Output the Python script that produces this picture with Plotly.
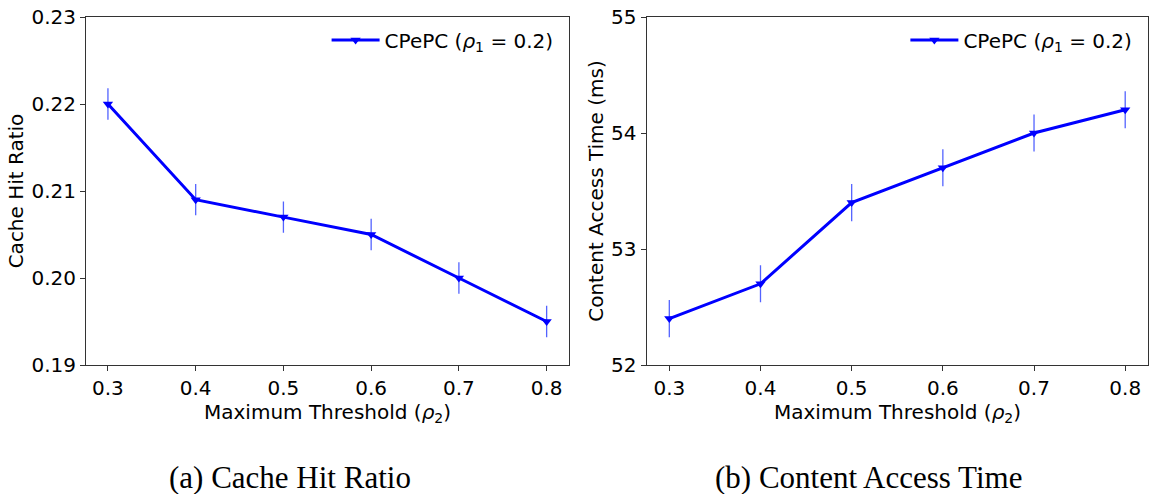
import plotly.graph_objects as go

# Maximum threshold values (rho_2)
thresholds = [0.3, 0.4, 0.5, 0.6, 0.7, 0.8]

# Cache hit ratio and its error half-widths
hit_ratio = [0.220, 0.209, 0.207, 0.205, 0.200, 0.195]
hit_ratio_err = [0.0018, 0.0018, 0.0018, 0.0018, 0.0018, 0.0018]

# Content access time (ms) and its error half-widths
access_time = [52.4, 52.7, 53.4, 53.7, 54.0, 54.2]
access_time_err = [0.16, 0.16, 0.16, 0.16, 0.16, 0.16]

x_ticks = [0.3, 0.4, 0.5, 0.6, 0.7, 0.8]
left_y_ticks = [0.19, 0.20, 0.21, 0.22, 0.23]
right_y_ticks = [52, 53, 54, 55]

series_name = "CPePC (<i>ρ</i><sub>1</sub> = 0.2)"
x_title = "Maximum Threshold (<i>ρ</i><sub>2</sub>)"
captions = ["(a) Cache Hit Ratio", "(b) Content Access Time"]

LINE_BLUE = "#0000ff"
ERR_BLUE = "rgba(40,60,255,0.8)"
FONT = "DejaVu Sans"

LEFT_DOMAIN = [0, 0.4544]
RIGHT_DOMAIN = [0.5278, 1]

fig = go.Figure()


def add_series(y, err, xaxis, yaxis, legend):
    fig.add_trace(go.Scatter(
        x=thresholds, y=y,
        mode="lines+markers",
        name=series_name,
        line=dict(color=LINE_BLUE, width=3),
        marker=dict(symbol="triangle-down", size=9, color=LINE_BLUE),
        error_y=dict(type="data", array=err, visible=True,
                     color=ERR_BLUE, thickness=1.3, width=0),
        xaxis=xaxis, yaxis=yaxis, legend=legend,
        showlegend=True,
    ))


add_series(hit_ratio, hit_ratio_err, "x", "y", "legend")
add_series(access_time, access_time_err, "x2", "y2", "legend2")

axis_common = dict(
    showline=True, mirror=True, linecolor="#333333", linewidth=1,
    ticks="outside", ticklen=5, tickcolor="#333333", tickwidth=1,
    showgrid=False, zeroline=False,
    tickfont=dict(family=FONT, size=20, color="black"),
)

fig.update_layout(
    width=1154, height=494,
    paper_bgcolor="white", plot_bgcolor="white",
    margin=dict(l=86, r=5, t=15, b=129),
    font=dict(family=FONT, size=20, color="black"),
    xaxis=dict(domain=LEFT_DOMAIN, range=[0.275, 0.825], tickvals=x_ticks,
               tickformat=".1f", **axis_common),
    yaxis=dict(range=[0.19, 0.23], tickvals=left_y_ticks, tickformat=".2f",
               title=dict(text="Cache Hit Ratio", standoff=2,
                          font=dict(family=FONT, size=20)),
               **axis_common),
    xaxis2=dict(domain=RIGHT_DOMAIN, range=[0.275, 0.825], tickvals=x_ticks,
                tickformat=".1f", anchor="y2", **axis_common),
    yaxis2=dict(range=[52, 55], tickvals=right_y_ticks, tickformat="d",
                anchor="x2",
                title=dict(text="Content Access Time (ms)", standoff=2,
                           font=dict(family=FONT, size=20)),
                **axis_common),
    legend=dict(x=0.445, y=0.99, xanchor="right", yanchor="top",
                bgcolor="rgba(0,0,0,0)", font=dict(family=FONT, size=20),
                itemwidth=48),
    legend2=dict(x=0.99, y=0.99, xanchor="right", yanchor="top",
                 bgcolor="rgba(0,0,0,0)", font=dict(family=FONT, size=20),
                 itemwidth=48),
)

# x-axis titles, placed just under the tick labels of each panel
for dom in (LEFT_DOMAIN, RIGHT_DOMAIN):
    fig.add_annotation(
        x=(dom[0] + dom[1]) / 2, y=-0.138, xref="paper", yref="paper",
        text=x_title, showarrow=False, xanchor="center", yanchor="middle",
        font=dict(family=FONT, size=20, color="black"),
    )

# Sub-figure captions below each panel
for cx, text in zip([0.192, 0.737], captions):
    fig.add_annotation(
        x=cx, y=-0.323, xref="paper", yref="paper",
        text=text, showarrow=False, xanchor="center", yanchor="middle",
        font=dict(family="Liberation Serif", size=31, color="black"),
    )

fig.write_html("out.html")
